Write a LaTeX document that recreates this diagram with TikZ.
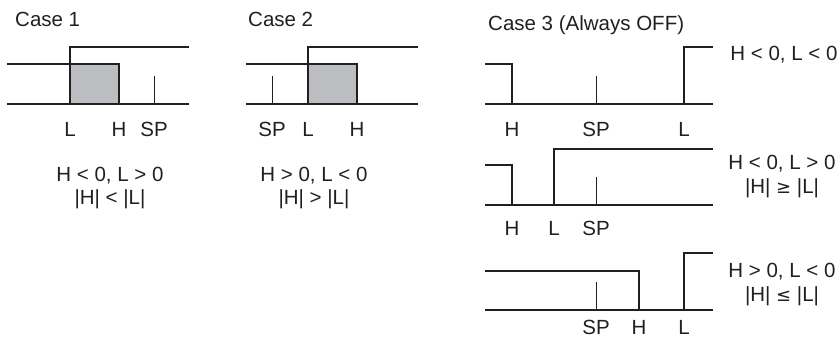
\documentclass[tikz,border=0pt]{standalone}
\usepackage{fontspec}
\setmainfont{Liberation Sans}
\definecolor{ink}{HTML}{231F20}
\definecolor{fillgray}{RGB}{188,189,192}
\tikzset{
  sig/.style={draw=ink, line width=2.2pt, line join=miter},
  tick/.style={draw=ink, line width=1pt},
  lbl/.style={anchor=base, inner sep=0pt, text=ink, font=\fontsize{20.5}{24}\selectfont},
  ttl/.style={anchor=base west, inner sep=0pt, text=ink, font=\fontsize{20.5}{24}\selectfont},
}
\begin{document}
\begin{tikzpicture}[x=1pt,y=-1pt]
\useasboundingbox (0,0) rectangle (840,340);
% ---------------- Case 1
\node[ttl] (t1) at (15,26) {Case 1};
\fill[fillgray] (70,64) rectangle (119,104);
\draw[sig] (7,104) -- (189,104);
\draw[sig] (7,64) -- (119,64) -- (119,104);
\draw[sig] (70,104) -- (70,47) -- (189,47);
\draw[tick] (154,76) -- (154,104);
\node[lbl] (c1L) at (70,136) {L};
\node[lbl] (c1H) at (119,136) {H};
\node[lbl] (c1S) at (154,136) {SP};
\node[lbl] (c1a) at (110,181) {H < 0, L > 0};
\node[lbl] (c1b) at (110,204) {|H| < |L|};
% ---------------- Case 2
\node[ttl] (t2) at (248,26) {Case 2};
\fill[fillgray] (308,64) rectangle (357,104);
\draw[sig] (246,104) -- (418,104);
\draw[sig] (246,64) -- (357,64) -- (357,104);
\draw[sig] (308,104) -- (308,47) -- (418,47);
\draw[tick] (272,76) -- (272,104);
\node[lbl] (c2S) at (272,136) {SP};
\node[lbl] (c2L) at (308,136) {L};
\node[lbl] (c2H) at (357,136) {H};
\node[lbl] (c2a) at (314,181) {H > 0, L < 0};
\node[lbl] (c2b) at (314,204) {|H| > |L|};
% ---------------- Case 3
\node[ttl] (t3) at (488,30.5) {Case 3 (Always OFF)};
% row 1
\draw[sig] (485,104) -- (713,104);
\draw[sig] (485,64) -- (512,64) -- (512,104);
\draw[sig] (684,104) -- (684,47) -- (713,47);
\draw[tick] (596,76) -- (596,104);
\node[lbl] (r1H) at (512,136) {H};
\node[lbl] (r1S) at (596,136) {SP};
\node[lbl] (r1L) at (684,136) {L};
\node[lbl] (r1a) at (784,60) {H < 0, L < 0};
% row 2
\draw[sig] (485,205) -- (713,205);
\draw[sig] (485,165) -- (512,165) -- (512,205);
\draw[sig] (554,205) -- (554,149) -- (713,149);
\draw[tick] (596,177) -- (596,205);
\node[lbl] (r2H) at (512,235) {H};
\node[lbl] (r2L) at (554,235) {L};
\node[lbl] (r2S) at (596,235) {SP};
\node[lbl] (r2a) at (782,169) {H < 0, L > 0};
\node[lbl] (r2b) at (782,193) {|H| {\fontspec{DejaVu Sans}\fontsize{18}{20}\selectfont ≥} |L|};
% row 3
\draw[sig] (485,310) -- (713,310);
\draw[sig] (485,271) -- (639,271) -- (639,310);
\draw[sig] (684,310) -- (684,253) -- (713,253);
\draw[tick] (596,282) -- (596,310);
\node[lbl] (r3S) at (596,334.5) {SP};
\node[lbl] (r3H) at (639,334.5) {H};
\node[lbl] (r3L) at (684,334.5) {L};
\node[lbl] (r3a) at (782,277) {H > 0, L < 0};
\node[lbl] (r3b) at (782,301) {|H| {\fontspec{DejaVu Sans}\fontsize{18}{20}\selectfont ≤} |L|};
\end{tikzpicture}
\end{document}
